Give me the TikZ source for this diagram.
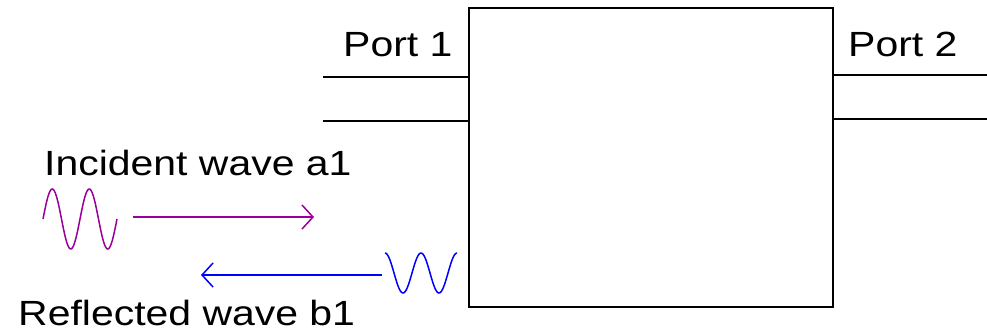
\documentclass[tikz,border=0pt]{standalone}
\usepackage{fontspec}
\setmainfont[FakeStretch=1.17]{Liberation Sans}
\usetikzlibrary{arrows.meta,positioning}
\definecolor{wavepurple}{RGB}{153,0,153}
\definecolor{waveblue}{RGB}{0,0,255}

\begin{document}
\begin{tikzpicture}[x=1pt,y=-1pt,
    label/.style={anchor=base west,inner sep=0pt,font=\fontsize{35}{40}\selectfont},
    line/.style={line width=1.5pt},
    >={Straight Barb[length=11pt,width=24pt]}]
		\useasboundingbox (0,0) rectangle (987,334);
		\node (net) at (650.5,157.5) [draw,line width=2pt,minimum width=364pt,minimum height=298pt,inner sep=0pt] {};
		% ports
		\node (port1) at (343,57) [label] {Port 1};
		\node (port2) at (848,57) [label] {Port 2};
		\coordinate (p1top) at (323,77);
		\coordinate (p1bot) at (323,121);
		\coordinate (p2top) at (987,75);
		\coordinate (p2bot) at (987,119);
		\draw [line] (p1top) -- (net.west |- p1top);
		\draw [line] (p1bot) -- (net.west |- p1bot);
		\draw [line] (net.east |- p2top) -- (p2top);
		\draw [line] (net.east |- p2bot) -- (p2bot);
		% waves
		\node (inc) at (44,175) [label] {Incident wave a1};
		\node (refl) at (18,325) [label] {Reflected wave b1};
		\draw [line,wavepurple] plot[domain=0:74,samples=80] ({43+\x},{219-30*sin(\x/37*360)});
		\coordinate (a1start) at (133,217);
		\coordinate (a1end) at (314,217);
		\draw [->,line,wavepurple] (a1start) -- (a1end);
		\draw [line,waveblue] plot[domain=0:72,samples=80] ({385+\x},{273-20*cos(\x/36*360)});
		\coordinate (b1start) at (382,275);
		\coordinate (b1end) at (201,275);
		\draw [->,line,waveblue] (b1start) -- (b1end);
	\end{tikzpicture}
\end{document}
